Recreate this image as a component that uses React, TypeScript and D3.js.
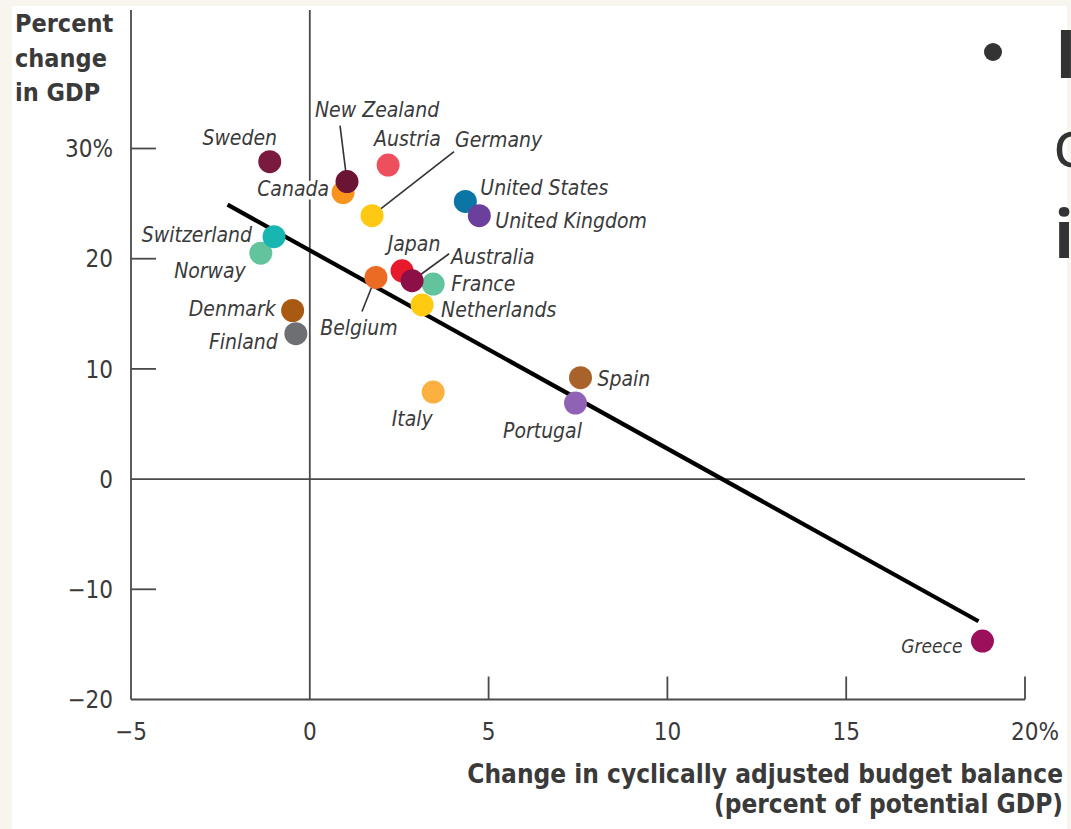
import React, { useEffect } from "react";
import * as d3 from "d3";

// ---- data ----
const countries = [
  "Sweden", "Canada", "New Zealand", "Austria", "Germany", "United States", "United Kingdom",
  "Norway", "Switzerland", "Finland", "Denmark", "Belgium", "Japan", "France", "Australia",
  "Netherlands", "Italy", "Spain", "Portugal", "Greece",
];
const budgetChange = [
  -1.12, 0.93, 1.04, 2.19, 1.74, 4.35, 4.74,
  -1.37, -1.0, -0.39, -0.48, 1.85, 2.58, 3.45, 2.86,
  3.14, 3.45, 7.57, 7.43, 18.81,
];
const gdpChange = [
  28.8, 26.0, 27.0, 28.5, 23.9, 25.2, 23.9,
  20.5, 22.0, 13.2, 15.3, 18.3, 18.9, 17.7, 18.0,
  15.8, 7.9, 9.2, 6.9, -14.7,
];
const pointColors = [
  "#7b1a3f", "#f7941d", "#6c1433", "#ee4f5c", "#ffc913", "#0b76a6", "#6b3f9c",
  "#62c39c", "#17b6b1", "#6e6f73", "#a85912", "#eb6b25", "#e8182d", "#62c39c", "#8c0f48",
  "#ffcb10", "#fbb040", "#a9632a", "#9062b5", "#9b0f5b",
];
const trendX = [-2.3, 18.7];
const trendY = [24.9, -12.9];
const xTicks = [-5, 0, 5, 10, 15, 20];
const xTickLabels = ["\u22125", "0", "5", "10", "15", "20%"];
const yTicks = [-20, -10, 0, 10, 20, 30];
const yTickLabels = ["\u221220", "\u221210", "0", "10", "20", "30%"];

// label layout (pixel offsets from point)
type Lab = { dx: number; dy: number; anchor: string; leader?: number[]; halo?: boolean; size?: number };
const labelLayout: Record<string, Lab> = {
  Sweden: { dx: -30, dy: -24, anchor: "middle" },
  Canada: { dx: -14, dy: -4, anchor: "end", halo: true },
  "New Zealand": { dx: -32, dy: -72, anchor: "start", leader: [-7, -56, 0, 0] },
  Austria: { dx: -14, dy: -26, anchor: "start" },
  Germany: { dx: 83, dy: -76, anchor: "start", leader: [82, -64, 0, 0] },
  "United States": { dx: 15, dy: -14, anchor: "start" },
  "United Kingdom": { dx: 16, dy: 5, anchor: "start" },
  Switzerland: { dx: -22, dy: -2, anchor: "end" },
  Norway: { dx: -15, dy: 17, anchor: "end" },
  Denmark: { dx: -17, dy: -2, anchor: "end" },
  Finland: { dx: -18, dy: 8, anchor: "end" },
  Belgium: { dx: -17, dy: 50, anchor: "middle", leader: [-4, 9, -14, 34] },
  Japan: { dx: 12, dy: -27, anchor: "middle" },
  Australia: { dx: 39, dy: -24, anchor: "start", leader: [37, -27, 0, 0] },
  France: { dx: 18, dy: 0, anchor: "start" },
  Netherlands: { dx: 19, dy: 5, anchor: "start" },
  Italy: { dx: -21, dy: 27, anchor: "middle" },
  Spain: { dx: 17, dy: 1, anchor: "start" },
  Portugal: { dx: -33, dy: 28, anchor: "middle" },
  Greece: { dx: -20, dy: 5, anchor: "end", size: 19 },
};

const W = 1071;
const H = 829;
const axisColor = "#4a4a4a";
const textColor = "#3a3a3a";
const cond = "'DejaVu Sans Condensed', 'DejaVu Sans', sans-serif";

export default function App() {
  useEffect(() => {
    document.body.style.margin = "0";
  }, []);

  const x = d3.scaleLinear().domain([-5, 20]).range([131, 1025]);
  const y = d3.scaleLinear().domain([-20, 30]).range([699.5, 148.5]);
  const top = 10;
  const trend = d3.line<number>().x((d) => x(trendX[d])).y((d) => y(trendY[d]));

  const idx = countries.map((_, i) => i);

  return (
    <svg width={W} height={H} style={{ display: "block", position: "absolute", left: 0, top: 0 }}>
      <rect x={0} y={0} width={W} height={H} fill="#f8f5ef" />
      <rect x={12} y={6} width={1055} height={H - 6} fill="#ffffff" />

      {/* axes */}
      <g stroke={axisColor} strokeWidth={1.8} fill="none">
        <line x1={x(-5)} x2={x(-5)} y1={top} y2={y(-20)} />
        <line x1={x(0)} x2={x(0)} y1={top} y2={y(-20)} />
        <line x1={x(-5)} x2={x(20)} y1={y(0)} y2={y(0)} />
        <line x1={x(-5)} x2={x(20)} y1={y(-20)} y2={y(-20)} />
        {xTicks.filter((t) => t > 0).map((t) => (
          <line key={"xt" + t} x1={x(t)} x2={x(t)} y1={y(-20)} y2={y(-20) - 23} />
        ))}
        {yTicks.filter((t) => t !== 0 && t !== -20).map((t) => (
          <line key={"yt" + t} x1={x(-5)} x2={x(-5) + 25} y1={y(t)} y2={y(t)} />
        ))}
      </g>

      {/* tick labels */}
      <g fontFamily={cond} fontSize={24} fill={textColor}>
        {yTicks.map((t, i) => (
          <text key={"yl" + t} x={113} y={y(t)} dy="0.36em" textAnchor="end">
            {yTickLabels[i]}
          </text>
        ))}
        {xTicks.map((t, i) => (
          <text
            key={"xl" + t}
            x={t === 20 ? x(t) - 14 : x(t)}
            y={740}
            textAnchor={t === 20 ? "start" : "middle"}
          >
            {xTickLabels[i]}
          </text>
        ))}
      </g>

      {/* axis titles */}
      <g fontFamily={cond} fontWeight="bold" fill={textColor}>
        <text x={15} y={32} fontSize={25}>Percent</text>
        <text x={15} y={66.5} fontSize={25}>change</text>
        <text x={15} y={101} fontSize={25}>in GDP</text>
        <text x={1063} y={783} fontSize={26} textAnchor="end">Change in cyclically adjusted budget balance</text>
        <text x={1063} y={813} fontSize={26} textAnchor="end">(percent of potential GDP)</text>
      </g>

      {/* trend line */}
      <path d={trend([0, 1]) || ""} stroke="#000" strokeWidth={4.2} fill="none" />

      {/* leader lines */}
      <g stroke="#333" strokeWidth={1.6}>
        {idx.map((i) => {
          const l = labelLayout[countries[i]];
          if (!l.leader) return null;
          const px = x(budgetChange[i]);
          const py = y(gdpChange[i]);
          return (
            <line key={"ld" + i} x1={px + l.leader[0]} y1={py + l.leader[1]} x2={px + l.leader[2]} y2={py + l.leader[3]} />
          );
        })}
      </g>

      {/* points */}
      <g>
        {idx.map((i) => (
          <circle key={"pt" + i} cx={x(budgetChange[i])} cy={y(gdpChange[i])} r={11.5} fill={pointColors[i]} />
        ))}
      </g>

      {/* labels */}
      <g fontFamily={cond} fontStyle="italic" fill={textColor}>
        {idx.map((i) => {
          const l = labelLayout[countries[i]];
          const px = x(budgetChange[i]);
          const py = y(gdpChange[i]);
          return (
            <text
              key={"lb" + i}
              x={px + l.dx}
              y={py + l.dy}
              dy="0.35em"
              fontSize={l.size || 21}
              textAnchor={l.anchor}
              stroke={l.halo ? "#fff" : "none"}
              strokeWidth={l.halo ? 7 : 0}
              strokeLinejoin="round"
              style={{ paintOrder: "stroke" }}
            >
              {countries[i]}
            </text>
          );
        })}
      </g>

      {/* clipped slide text on the right */}
      <g fill="#333" fontFamily="'Open Sans', sans-serif" fontSize={66}>
        <circle cx={993} cy={52} r={9} />
        <text x={1055} y={78} fontWeight="bold">I</text>
        <text x={1053} y={167}>c</text>
        <text x={1054} y={258} fontWeight="bold">i</text>
      </g>
    </svg>
  );
}
